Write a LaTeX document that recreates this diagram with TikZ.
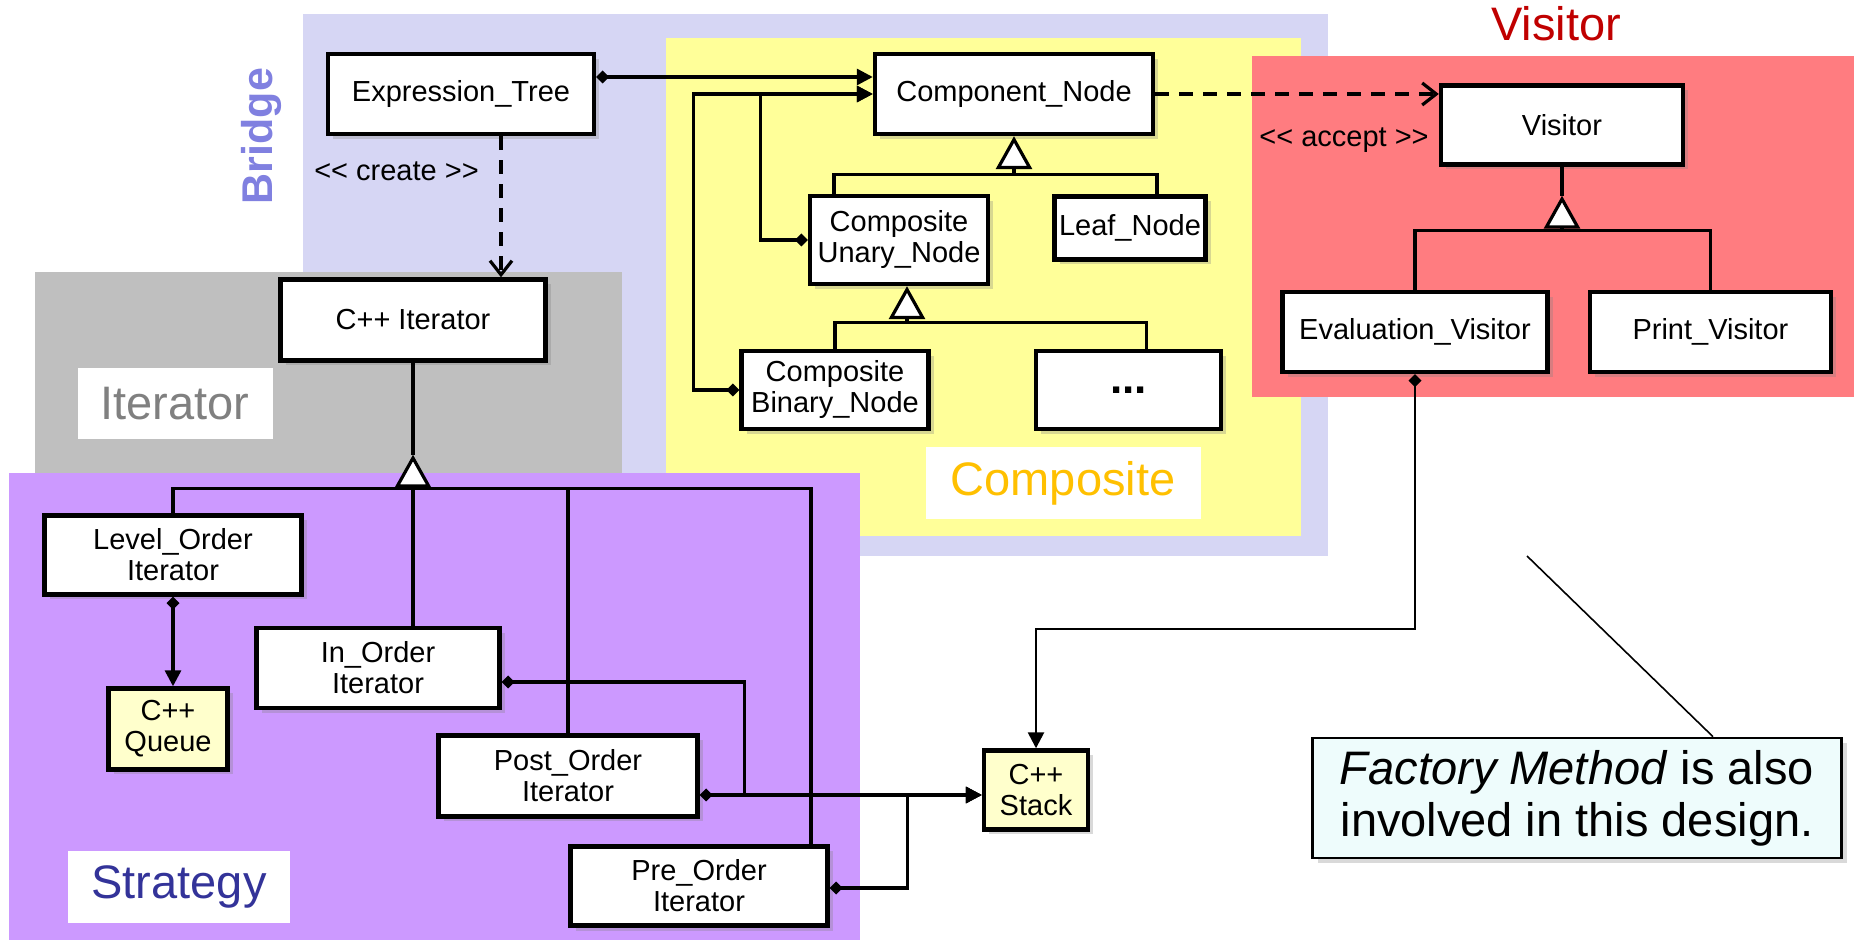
\documentclass[tikz,border=0pt]{standalone}
\usepackage{fontspec}
\setmainfont{Liberation Sans}
\usepackage{tikz}
\usetikzlibrary{arrows.meta, positioning, calc, shadows}

\definecolor{bridgebg}{RGB}{214,214,244}
\definecolor{compbg}{RGB}{255,255,153}
\definecolor{visitbg}{RGB}{255,124,128}
\definecolor{iterbg}{RGB}{191,191,191}
\definecolor{stratbg}{RGB}{204,153,255}
\definecolor{cppfill}{RGB}{255,255,204}
\definecolor{notefill}{RGB}{238,252,252}
\definecolor{bridgefg}{RGB}{128,128,224}
\definecolor{iterfg}{RGB}{128,128,128}
\definecolor{compfg}{RGB}{255,192,0}
\definecolor{stratfg}{RGB}{51,51,153}
\definecolor{visitfg}{RGB}{192,0,0}

\begin{document}
\begin{tikzpicture}[x=0.5pt, y=-0.5pt,
		cls/.style={rectangle, draw, line width=2.2pt, fill=white, inner sep=2pt, align=center,
			font=\fontsize{14.5}{15.5}\selectfont,
			drop shadow={opacity=0.3, shadow xshift=2.5pt, shadow yshift=-2.5pt}},
		cpp/.style={cls, fill=cppfill},
		tagbox/.style={fill=white, inner sep=0pt, font=\fontsize{23.5}{26}\selectfont},
		conn/.style={line width=1.6pt},
		inherit/.style={conn, -{Triangle[open, fill=white, length=16.5pt, width=18pt]}},
		owns/.style={conn, {Diamond[length=6.5pt, width=6.5pt]}-{Triangle[length=8pt, width=8pt]}},
		depends/.style={conn, dash pattern=on 7pt off 5pt, -{Straight Barb[length=7pt, width=11pt]}},
		lbl/.style={font=\fontsize{14.5}{15.5}\selectfont}]
	\useasboundingbox (0,0) rectangle (1854,940);
	\fill[bridgebg] (303,14) rectangle (1328,556);
	\fill[compbg] (666,38) rectangle (1301,536);
	\fill[visitbg] (1252,56) rectangle (1854,397);
	\fill[iterbg] (35,272) rectangle (622,473);
	\fill[stratbg] (9,473) rectangle (860,940);

	\node[rotate=90, text=bridgefg, font=\fontsize{21.5}{24}\selectfont\bfseries] (bridgelbl) at (261,136) {Bridge};
	\node[text=visitfg, font=\fontsize{23.5}{26}\selectfont] (visitlbl) at (1556,24) {Visitor};
	\node[tagbox, text=iterfg, minimum width=97.5pt, minimum height=35.5pt] (iterlbl) at (175,404) {Iterator};
	\node[tagbox, text=compfg, minimum width=137.5pt, minimum height=36pt] (complbl) at (1063,483) {Composite};
	\node[tagbox, text=stratfg, minimum width=111pt, minimum height=36pt] (stratlbl) at (179,887) {Strategy};

	\node[cls, minimum width=133pt, minimum height=40pt] (extree) at (461,94) {Expression\_Tree};
	\node[cls, minimum width=139pt, minimum height=40pt] (compnode) at (1014,94) {Component\_Node};
	\node[cls, minimum width=89pt, minimum height=44pt] (unary) at (899,240) {Composite\\Unary\_Node};
	\node[cls, minimum width=75.5pt, minimum height=31.5pt] (leaf) at (1130,228) {Leaf\_Node};
	\node[cls, minimum width=93.5pt, minimum height=39pt] (binary) at (835,390) {Composite\\Binary\_Node};
	\node[cls, minimum width=92.5pt, minimum height=39pt, right=51.5pt of binary] (more) {\fontsize{22}{22}\selectfont\bfseries ...};
	\node[cls, minimum width=121pt, minimum height=39.5pt] (visitor) at (1562,125) {Visitor};
	\node[cls, minimum width=132.5pt, minimum height=40pt] (evalv) at (1415,332) {Evaluation\_Visitor};
	\node[cls, minimum width=120.5pt, minimum height=40pt, right=19pt of evalv] (printv) {Print\_Visitor};
	\node[cls, minimum width=132.5pt, minimum height=40.5pt] (cppiter) at (413,320) {C++ Iterator};
	\node[cls, minimum width=128.5pt, minimum height=39.5pt] (levelit) at (173,555) {Level\_Order\\Iterator};
	\node[cpp, minimum width=59.5pt, minimum height=40.5pt] (queue) at (168,729) {C++\\Queue};
	\node[cls, minimum width=121.5pt, minimum height=40pt] (initer) at (378,668) {In\_Order\\Iterator};
	\node[cls, minimum width=129.5pt, minimum height=40.5pt] (postit) at (568,776) {Post\_Order\\Iterator};
	\node[cls, minimum width=128.5pt, minimum height=39.5pt] (preit) at (699,886) {Pre\_Order\\Iterator};
	\node[cpp, minimum width=52pt, minimum height=39.5pt] (stack) at (1036,790) {C++\\Stack};
	\node[draw, line width=1.3pt, fill=notefill, minimum width=264.5pt, minimum height=60pt, align=center,
		font=\fontsize{23.5}{26}\selectfont, drop shadow={opacity=0.3, shadow xshift=2.5pt, shadow yshift=-2.5pt}]
		(note) at (1577,798) {\textit{Factory Method} is also\\involved in this design.};

	\draw[owns] ([yshift=8.5pt]extree.east) -- ([yshift=8.5pt]extree.east -| compnode.west);
	\draw[owns] (unary.west) -- ++(-47,0) |- (compnode.west);
	\draw[owns] (binary.west) -- ++(-46,0) |- (compnode.west);

	\coordinate (cbase) at ($(compnode.south)+(0,38)$);
	\draw[conn] ([xshift=-32.5pt]unary.north) |- (cbase) -| ([xshift=13.5pt]leaf.north);
	\draw[inherit] (cbase) -- (compnode.south);
	\coordinate (ubase) at ($([xshift=4pt]unary.south)+(0,36)$);
	\draw[conn] (binary.north) |- (ubase) -| ([xshift=9pt]more.north);
	\draw[inherit] (ubase) -- ([xshift=4pt]unary.south);

	\draw[depends] (compnode.east) -- (compnode.east -| visitor.west);
	\node[lbl] (acceptlbl) at (1344,140) {<{}< accept >{}>};
	\coordinate (vtip) at ($(visitor.south)+(0,29)$);
	\coordinate (vbase) at ($(vtip)+(0,35)$);
	\draw[conn] (visitor.south) -- (vtip);
	\draw[conn] (evalv.north) |- (vbase) -| (printv.north);
	\draw[inherit] (vbase) -- (vtip);

	\draw[depends] ([xshift=20pt]extree.south) -- ([xshift=20pt]extree.south |- cppiter.north)
		node[lbl, pos=0.25, left=7pt] {<{}< create >{}>};
	\coordinate (itip) at ($(cppiter.south)+(0,92)$);
	\coordinate (ibase) at ($(itip)+(0,34)$);
	\draw[conn] (cppiter.south) -- (itip);
	\draw[conn] (levelit.north) |- (ibase) -| ([xshift=56pt]preit.north);
	\draw[conn] (initer.north -| ibase) -- (ibase);
	\draw[conn] (postit.north) -- (postit.north |- ibase);
	\draw[inherit] (ibase) -- (itip);

	\draw[owns] (levelit.south) -- (levelit.south |- queue.north);
	\coordinate (stackin) at ([yshift=-9.5pt]postit.east -| stack.west);
	\draw[owns] ([yshift=-9.5pt]postit.east) -- (stackin);
	\draw[owns] ([yshift=-7pt]initer.east) -- ++(243,0) |- (stackin);
	\draw[owns] ([yshift=-1pt]preit.east) -- ++(78,0) |- (stackin);
	\draw[owns, line width=1.3pt] (evalv.south) -- ++(0,255) -| (stack.north);

	\coordinate (notept) at (1527,556);
	\draw[line width=0.8pt] ([xshift=68pt]note.north) -- (notept);
\end{tikzpicture}
\end{document}
